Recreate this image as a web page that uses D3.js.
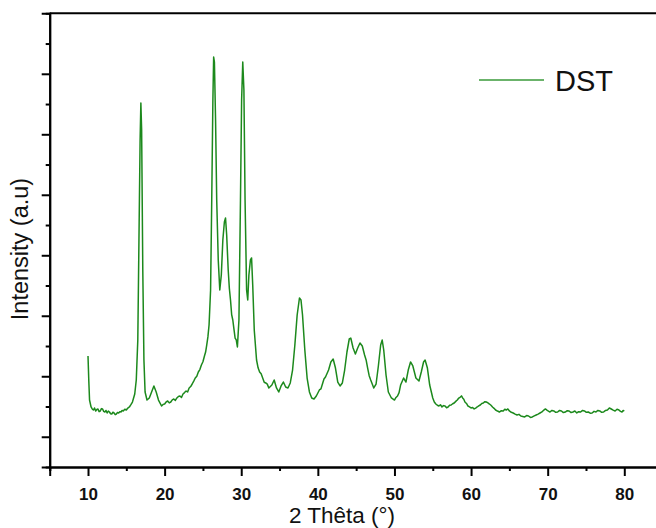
<!DOCTYPE html>
<html>
<head>
<meta charset="utf-8">
<script src="https://cdn.jsdelivr.net/npm/d3@7"></script>
<style>
  body { margin: 0; background: #fff; }
  text { font-family: "Liberation Sans", Arial, sans-serif; }
</style>
</head>
<body>
<script>
var width = 656,
    height = 528;

// XRD pattern (2 theta in degrees, intensity in a.u.)
var twoTheta = [
  10.0, 10.1, 10.2,
  10.4, 10.55, 10.7, 10.85, 11.0, 11.15, 11.3, 11.45, 11.6, 11.75, 11.9, 12.05, 12.2, 12.35, 12.5, 12.65, 12.8, 12.95,
  13.1, 13.25, 13.4, 13.55, 13.7, 13.85, 14.0, 14.15, 14.3, 14.45, 14.6, 14.8, 15.0, 15.2, 15.4, 15.6, 15.8,
  16.1, 16.3, 16.5, 16.65, 16.8, 16.9, 17.0, 17.15, 17.3, 17.45, 17.7, 18.0, 18.3, 18.6, 18.9, 19.2,
  19.6, 19.8, 20.0, 20.2, 20.4, 20.6, 20.8, 21.0, 21.2, 21.4, 21.6, 21.8, 22.0, 22.2, 22.4, 22.6, 22.8,
  23.0, 23.2, 23.4, 23.6, 23.8, 24.0, 24.2, 24.4, 24.6, 24.8, 25.0, 25.2, 25.35, 25.5, 25.65, 25.8,
  26.0, 26.15, 26.3, 26.4, 26.5, 26.65, 26.8, 27.0, 27.2, 27.4, 27.6, 27.8, 27.95, 28.1, 28.3, 28.45, 28.6, 28.75,
  28.9, 29.05, 29.2, 29.35, 29.5, 29.7, 29.9, 30.05, 30.2, 30.35, 30.5, 30.7, 30.85, 31.0, 31.2, 31.35, 31.5, 31.7,
  32.0, 32.2, 32.4, 32.6, 32.8, 33.0, 33.2, 33.4, 33.6,
  34.0, 34.3, 34.6, 34.9, 35.2, 35.5, 35.8, 36.1, 36.4, 36.7, 37.0, 37.3, 37.6, 37.8, 38.0, 38.3, 38.6, 38.9, 39.2, 39.5, 39.8,
  40.2, 40.4, 40.6, 40.8, 41.0, 41.4, 41.7, 42.0, 42.3, 42.6, 42.9, 43.2, 43.5, 43.8, 44.1, 44.3, 44.6, 44.9,
  45.2, 45.5, 45.8, 46.1, 46.3, 46.5, 46.7, 46.9, 47.3, 47.6, 47.9, 48.2, 48.4, 48.6, 48.9, 49.2, 49.6,
  50.0, 50.2, 50.4, 50.6, 50.8, 51.2, 51.5, 51.8, 52.1, 52.4, 52.8, 53.2, 53.5, 53.8, 54.0, 54.3, 54.6,
  55.0, 55.2, 55.4, 55.6, 55.8, 56.0, 56.2, 56.4, 56.6, 56.8,
  57.0, 57.2, 57.4, 57.6, 57.8, 58.0, 58.2, 58.4, 58.6, 58.75,
  58.9, 59.05, 59.2, 59.4, 59.6, 59.8, 60.0, 60.2, 60.4, 60.6,
  60.8, 61.0, 61.2, 61.4, 61.6, 61.8, 62.0, 62.2, 62.4, 62.6,
  62.8, 63.0, 63.2, 63.45, 63.7, 63.95, 64.2, 64.4, 64.6, 64.8,
  65.0, 65.25, 65.5, 65.75, 66.0, 66.25, 66.5, 66.75, 67.0, 67.25,
  67.5, 67.75, 68.0, 68.25, 68.5, 68.75, 69.0, 69.25, 69.5, 69.7,
  69.9, 70.1, 70.3, 70.55, 70.8, 71.05, 71.3, 71.55, 71.8, 72.05,
  72.3, 72.55, 72.8, 73.05, 73.3, 73.55, 73.8, 74.05, 74.3, 74.55,
  74.8, 75.05, 75.3, 75.55, 75.8, 76.05, 76.3, 76.55, 76.8, 77.05,
  77.3, 77.55, 77.8, 78.05, 78.3, 78.55, 78.8, 79.05, 79.3, 79.5,
  79.7, 79.85, 80.0
];

var intensity = [
  1835, 1438, 1107,
  992, 960, 942, 975, 926, 950, 959, 915, 926, 965, 959, 920, 909, 935, 893, 925, 909, 880,
  876, 905, 893, 865, 876, 900, 893, 915, 909, 935, 926, 955, 942, 975, 992, 1030, 1074,
  1207, 1438, 2099, 3752, 5405, 6017, 5571, 3256, 1769, 1240, 1107, 1141, 1240, 1339, 1240, 1107,
  1008, 1035, 1041, 1075, 1091, 1060, 1074, 1110, 1124, 1100, 1141, 1165, 1174, 1150, 1207, 1230, 1256,
  1240, 1306, 1330, 1372, 1420, 1471, 1500, 1570, 1610, 1686, 1740, 1835, 1900, 2017, 2150, 2347,
  2926, 4413, 6067, 6777, 6694, 5736, 4413, 3422, 2926, 3174, 3752, 4050, 4116, 3835, 3256, 2950, 2761, 2520,
  2430, 2280, 2132, 2100, 1984, 2430, 4413, 6067, 6694, 6232, 4413, 2926, 2761, 3174, 3422, 3455, 3009, 2265,
  1769, 1640, 1570, 1540, 1471, 1400, 1389, 1370, 1306,
  1355, 1438, 1306, 1240, 1339, 1405, 1322, 1306, 1389, 1603, 2017, 2513, 2794, 2761, 2513, 1934, 1471, 1240, 1141, 1124, 1174,
  1273, 1290, 1372, 1455, 1488, 1603, 1736, 1785, 1636, 1405, 1339, 1389, 1603, 1901, 2116, 2132, 1967, 1868,
  1967, 2050, 2000, 1851, 1770, 1636, 1510, 1438, 1306, 1372, 1670, 2017, 2099, 1934, 1521, 1240, 1141,
  1107, 1150, 1174, 1230, 1355, 1471, 1405, 1603, 1736, 1670, 1471, 1422, 1570, 1736, 1769, 1636, 1355,
  1141, 1075, 1041, 1020, 1008, 1030, 992, 1015, 1008, 980,
  992, 1020, 1025, 1045, 1058, 1085, 1107, 1140, 1157, 1175,
  1141, 1120, 1074, 1050, 1008, 995, 975, 985, 959, 975,
  992, 1010, 1025, 1050, 1058, 1080, 1074, 1060, 1041, 1020,
  992, 970, 942, 925, 909, 930, 926, 955, 942, 960,
  926, 905, 893, 875, 860, 870, 843, 835, 827, 850,
  843, 820, 827, 845, 860, 875, 893, 910, 942, 960,
  942, 925, 909, 935, 926, 905, 909, 935, 926, 900,
  909, 930, 926, 900, 909, 925, 893, 915, 909, 935,
  926, 905, 909, 890, 893, 920, 909, 935, 926, 905,
  909, 935, 942, 975, 959, 940, 926, 955, 942, 920,
  909, 935, 926
];

var xMajor = [10, 20, 30, 40, 50, 60, 70, 80],
    xMinor = [5, 15, 25, 35, 45, 55, 65, 75, 85],
    yMajor = [500, 1500, 2500, 3500, 4500, 5500, 6500],
    yMinor = [1000, 2000, 3000, 4000, 5000, 6000, 7000];

var seriesName = "DST";

var data = twoTheta.map(function(t, i) { return {t: t, v: intensity[i]}; });

var svg = d3.select("body")
  .append("svg")
  .attr("width", width)
  .attr("height", height);

var x = d3.scaleLinear().domain([5, 85]).range([49.7, 662.6]);
var y = d3.scaleLinear().domain([0, 7500]).range([467, 13.3]);

// frame top line
svg.append("line")
  .attr("x1", x(5)).attr("x2", width + 10)
  .attr("y1", y(7500)).attr("y2", y(7500))
  .attr("stroke", "#000").attr("stroke-width", 2);

// x axis
var gx = svg.append("g").attr("transform", "translate(0," + y(0) + ")");
gx.call(d3.axisBottom(x).tickValues(xMinor).tickSize(4).tickFormat(""));
gx.append("g").call(d3.axisBottom(x).tickValues(xMajor).tickSize(9).tickPadding(12).tickFormat(d3.format("d")));
gx.selectAll(".domain").attr("stroke-width", 2);
gx.selectAll(".tick line").attr("stroke-width", 2);
gx.selectAll("text")
  .attr("font-size", 17)
  .attr("font-weight", "bold")
  .attr("font-family", "'Liberation Sans', Arial, sans-serif")
  .attr("fill", "#111");

// y axis, no labels
var gy = svg.append("g").attr("transform", "translate(" + x(5) + ",0)");
gy.call(d3.axisLeft(y).tickValues(yMinor).tickSize(4).tickFormat(""));
gy.append("g").call(d3.axisLeft(y).tickValues(yMajor).tickSize(8).tickFormat(""));
gy.selectAll(".domain").attr("stroke-width", 2);
gy.selectAll(".tick line").attr("stroke-width", 2);

// pattern
var line = d3.line()
  .x(function(d) { return x(d.t); })
  .y(function(d) { return y(d.v); });

svg.append("path")
  .datum(data)
  .attr("fill", "none")
  .attr("stroke", "#1c891c")
  .attr("stroke-width", 1.5)
  .attr("stroke-linejoin", "round")
  .attr("d", line);

// legend
svg.append("line")
  .attr("x1", 479).attr("x2", 544)
  .attr("y1", 80).attr("y2", 80)
  .attr("stroke", "#3a9a3a").attr("stroke-width", 1.5);
svg.append("text")
  .attr("x", 555).attr("y", 91)
  .attr("font-size", 29)
  .attr("fill", "#111")
  .text(seriesName);

// axis titles
svg.append("text")
  .attr("x", 342).attr("y", 523)
  .attr("text-anchor", "middle")
  .attr("font-size", 22.5)
  .attr("fill", "#111")
  .text("2 Thêta (°)");

svg.append("text")
  .attr("transform", "translate(28,249) rotate(-90)")
  .attr("text-anchor", "middle")
  .attr("font-size", 23.5)
  .attr("fill", "#111")
  .text("Intensity (a.u)");
</script>
</body>
</html>
